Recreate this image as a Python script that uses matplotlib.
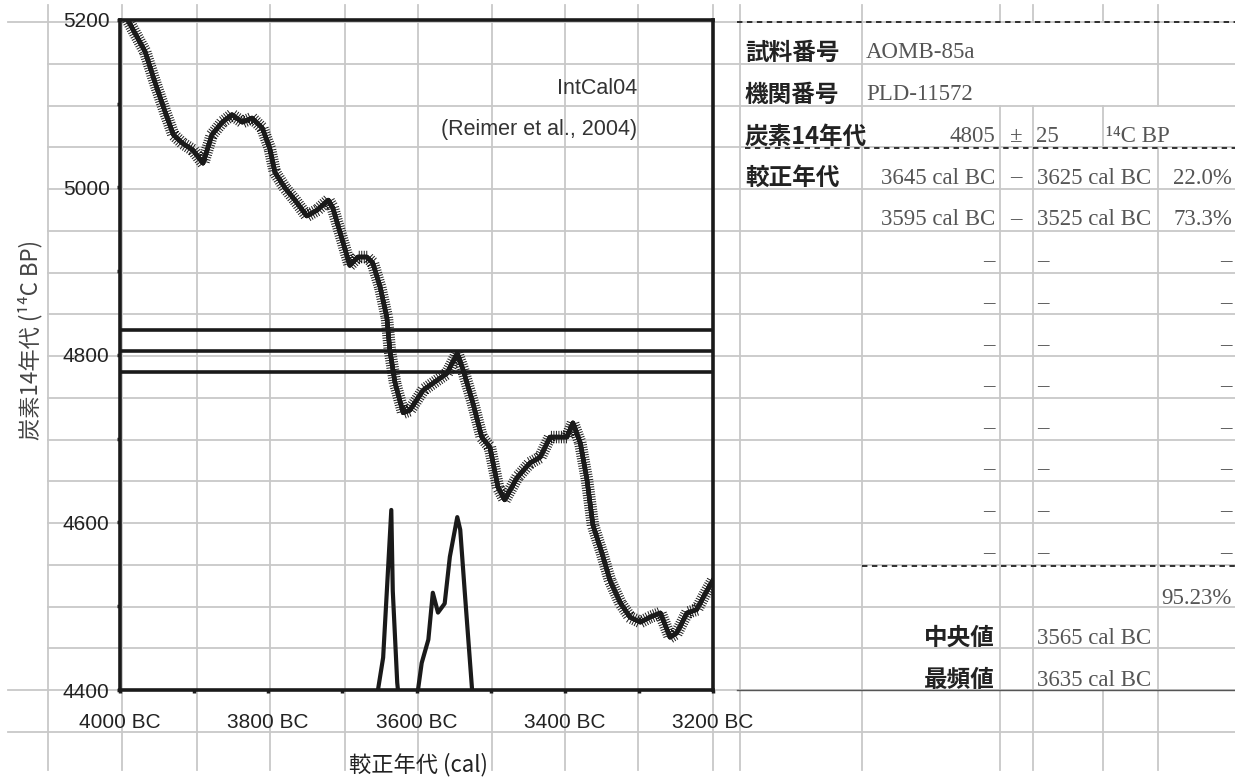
import matplotlib
matplotlib.use("Agg")
import matplotlib.pyplot as plt
import matplotlib.patheffects as pe
from matplotlib.ticker import MultipleLocator, FuncFormatter

# IntCal04 calibration curve (cal BC vs 14C BP)
curve_bc = [3992, 3987, 3966, 3953, 3939, 3928, 3916, 3902, 3888, 3876, 3862,
            3849, 3835, 3822, 3808, 3798, 3791, 3777, 3764, 3748, 3734, 3719,
            3713, 3700, 3690, 3679, 3667, 3659, 3649, 3640, 3636, 3629, 3618,
            3609, 3591, 3572, 3559, 3545, 3537, 3524, 3512, 3501, 3490, 3481,
            3464, 3447, 3433, 3420, 3406, 3397, 3389, 3379, 3370, 3362, 3350,
            3339, 3325, 3312, 3298, 3285, 3271, 3258, 3249, 3235, 3222, 3208,
            3200]
curve_bp = [5204, 5196, 5162, 5126, 5090, 5063, 5053, 5045, 5029, 5063, 5078,
            5087, 5078, 5083, 5071, 5047, 5018, 4999, 4985, 4966, 4973, 4985,
            4976, 4937, 4907, 4917, 4917, 4910, 4881, 4845, 4806, 4767, 4731,
            4734, 4758, 4770, 4778, 4802, 4782, 4743, 4702, 4690, 4642, 4627,
            4654, 4671, 4678, 4702, 4702, 4702, 4719, 4695, 4651, 4597, 4564,
            4531, 4504, 4487, 4481, 4487, 4492, 4463, 4468, 4492, 4496, 4519,
            4531]

# calibrated probability distribution (relative, peak = 1)
prob1_bc = [3652, 3645, 3640, 3634, 3632, 3626, 3625]
prob1 = [0.0, 0.18, 0.55, 1.0, 0.55, 0.04, 0.0]
prob2_bc = [3598, 3593, 3584, 3578, 3571, 3562, 3555, 3545, 3541, 3535, 3525]
prob2 = [0.0, 0.15, 0.28, 0.54, 0.43, 0.48, 0.74, 0.96, 0.89, 0.55, 0.0]
prob_height = 215  # BP units for a relative probability of 1

# result table
sample_id = "AOMB-85a"
lab_id = "PLD-11572"
c14_age = 4805
c14_err = 25
range_from = ["3645 cal BC", "3595 cal BC"]
range_to = ["3625 cal BC", "3525 cal BC"]
range_pct = ["22.0%", "73.3%"]
total_pct = "95.23%"
median_cal = "3565 cal BC"
mode_cal = "3635 cal BC"

plt.rcParams["font.family"] = ["Liberation Sans", "Noto Sans CJK JP", "DejaVu Sans"]
CJK = ["Noto Sans CJK JP", "DejaVu Sans"]
SERIF = ["Liberation Serif", "DejaVu Serif"]

W, H = 1235, 781
fig = plt.figure(figsize=(W / 100, H / 100), dpi=100)

# spreadsheet background, in pixel coordinates
bg = fig.add_axes([0, 0, 1, 1], zorder=0)
bg.set_xlim(0, W)
bg.set_ylim(H, 0)
bg.axis("off")

grid_c = "#c8c8c8"
rows = [22 + 41.75 * i for i in range(18)]
for y in rows:
    bg.plot([48, W], [y, y], color=grid_c, lw=1.3)
for y in (rows[0], rows[16], rows[17]):
    bg.plot([8, 48], [y, y], color=grid_c, lw=1.3)

for x in [48, 122, 197, 270, 345, 418, 492, 565, 638, 713, 740, 862]:
    bg.plot([x, x], [5, 770], color=grid_c, lw=1.3)
for x in [1000, 1033]:
    bg.plot([x, x], [5, 22], color=grid_c, lw=1.3)
    bg.plot([x, x], [rows[2], 770], color=grid_c, lw=1.3)
bg.plot([1103, 1103], [5, 22], color=grid_c, lw=1.3)
bg.plot([1103, 1103], [rows[2], rows[3]], color=grid_c, lw=1.3)
bg.plot([1103, 1103], [rows[16], 770], color=grid_c, lw=1.3)
bg.plot([1158, 1158], [5, rows[2]], color=grid_c, lw=1.3)
bg.plot([1158, 1158], [rows[3], 770], color=grid_c, lw=1.3)

# table rules
dash = (0, (3, 2.5))
bg.plot([737, W], [rows[0], rows[0]], color="#222222", lw=1.3, ls=dash)
bg.plot([745, W], [rows[3] + 1, rows[3] + 1], color="#222222", lw=1.3, ls=dash)
bg.plot([862, W], [566, 566], color="#222222", lw=1.3, ls=dash)
bg.plot([737, W], [690, 690], color="#555555", lw=1.0)

lab_kw = dict(family=CJK, fontweight="bold", fontsize=17, color="#222222", va="center")
val_kw = dict(family=SERIF, fontsize=16.5, color="#555555", va="center")

bg.text(745, 53, "試料番号", ha="left", **lab_kw)
bg.text(745, 95, "機関番号", ha="left", **lab_kw)
bg.text(745, 137, "炭素14年代", ha="left", **lab_kw)
bg.text(745, 178, "較正年代", ha="left", **lab_kw)
bg.text(995, 638, "中央値", ha="right", **lab_kw)
bg.text(995, 680, "最頻値", ha="right", **lab_kw)

bg.text(866, 53, sample_id, ha="left", **val_kw)
bg.text(866, 95, lab_id, ha="left", **val_kw)
bg.text(995, 137, str(c14_age), ha="right", **val_kw)
bg.text(1016, 137, "±", ha="center", **val_kw)
bg.text(1036, 137, str(c14_err), ha="left", **val_kw)
bg.text(1106, 137, "¹⁴C BP", ha="left", **val_kw)

for i in range(len(range_from)):
    y = 178 + 41.75 * i
    bg.text(995, y, range_from[i], ha="right", **val_kw)
    bg.text(1016, y, "–", ha="center", **val_kw)
    bg.text(1037, y, range_to[i], ha="left", **val_kw)
    bg.text(1232, y, range_pct[i], ha="right", **val_kw)

for i in range(8):
    y = 262 + 41.6 * i
    bg.text(995, y, "–", ha="right", **val_kw)
    bg.text(1037, y, "–", ha="left", **val_kw)
    bg.text(1232, y, "–", ha="right", **val_kw)

bg.text(1232, 598, total_pct, ha="right", **val_kw)
bg.text(1037, 638, median_cal, ha="left", **val_kw)
bg.text(1037, 680, mode_cal, ha="left", **val_kw)

# the calibration chart
ax = fig.add_axes([120 / W, 1 - 690 / H, 593 / W, 670 / H], zorder=2)
ax.patch.set_alpha(0)
ax.set_xlim(4000, 3200)
ax.set_ylim(4400, 5200)

for s in ax.spines.values():
    s.set_linewidth(2.6)
    s.set_color("#1a1a1a")

ax.xaxis.set_major_locator(MultipleLocator(200))
ax.xaxis.set_minor_locator(MultipleLocator(100))
ax.yaxis.set_major_locator(MultipleLocator(200))
ax.yaxis.set_minor_locator(MultipleLocator(100))
ax.xaxis.set_major_formatter(FuncFormatter(lambda v, p: f"{int(v)} BC"))
ax.tick_params(which="both", direction="out", length=2.5, width=2.5, color="#1a1a1a")
ax.tick_params(axis="x", labelsize=15, pad=14, labelcolor="#222222")
ax.tick_params(axis="y", labelsize=15, pad=5, labelcolor="#222222")

for k in (-1, 0, 1):
    ax.axhline(c14_age + k * c14_err, color="#1a1a1a", lw=2.6)

hair = [pe.withTickedStroke(angle=90, spacing=1.8, length=2.3, linewidth=0.7),
        pe.withTickedStroke(angle=-90, spacing=1.8, length=2.3, linewidth=0.7),
        pe.Normal()]
ax.plot(curve_bc, curve_bp, color="#1a1a1a", lw=3.2, solid_joinstyle="round",
        path_effects=hair)

ax.plot(prob1_bc, [4400 + prob_height * p for p in prob1], color="#1a1a1a", lw=3.0)
ax.plot(prob2_bc, [4400 + prob_height * p for p in prob2], color="#1a1a1a", lw=3.0)

ax.text(0.872, 0.898, "IntCal04", transform=ax.transAxes, ha="right", va="center",
        fontsize=15.5, color="#333333")
ax.text(0.872, 0.836, "(Reimer et al., 2004)", transform=ax.transAxes, ha="right",
        va="center", fontsize=15.5, color="#333333")

fig.text(418 / W, 1 - 765 / H, "較正年代 (cal)", family=CJK, fontsize=16,
         ha="center", va="center", color="#222222")
fig.text(30 / W, 1 - 340 / H, "炭素14年代 (¹⁴C BP)", family=CJK, fontsize=16,
         rotation=90, ha="center", va="center", color="#444444")

fig.savefig("out.png", dpi=100)
